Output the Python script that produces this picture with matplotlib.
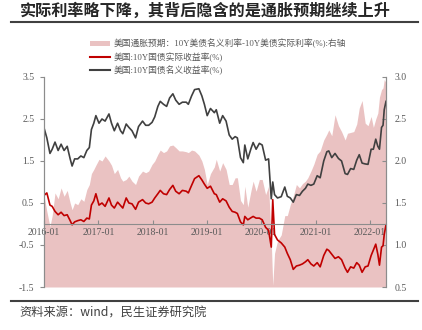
import numpy as np
import pandas as pd
import matplotlib
matplotlib.use('Agg')
import matplotlib.pyplot as plt
import matplotlib.dates as mdates
from matplotlib.lines import Line2D
from matplotlib.patches import Patch

plt.rcParams['font.family'] = ['Liberation Serif', 'Noto Sans CJK SC']
plt.rcParams['axes.unicode_minus'] = False

# sample dates shared by the three series
dates = [
    '2016-01-04', '2016-01-20', '2016-02-10', '2016-02-25', '2016-03-15', '2016-04-05',
    '2016-04-25', '2016-05-15', '2016-06-05', '2016-06-25', '2016-07-08', '2016-07-25',
    '2016-08-15', '2016-09-05', '2016-09-25', '2016-10-15', '2016-11-01', '2016-11-15',
    '2016-12-01', '2016-12-15', '2017-01-05', '2017-01-25', '2017-02-15', '2017-03-13',
    '2017-03-30', '2017-04-18', '2017-05-10', '2017-05-30', '2017-06-14', '2017-07-07',
    '2017-07-25', '2017-08-15', '2017-09-08', '2017-09-28', '2017-10-25', '2017-11-15',
    '2017-12-05', '2017-12-28', '2018-01-15', '2018-02-05', '2018-02-21', '2018-03-15',
    '2018-04-05', '2018-04-25', '2018-05-17', '2018-06-05', '2018-06-28', '2018-07-20',
    '2018-08-15', '2018-08-29', '2018-09-20', '2018-10-10', '2018-11-08', '2018-11-28',
    '2018-12-15', '2019-01-03', '2019-01-25', '2019-02-20', '2019-03-05', '2019-03-28',
    '2019-04-17', '2019-05-10', '2019-05-31', '2019-06-20', '2019-07-10', '2019-07-25',
    '2019-08-15', '2019-09-03', '2019-09-13', '2019-10-03', '2019-10-25', '2019-11-08',
    '2019-11-28', '2019-12-20', '2020-01-08', '2020-01-31', '2020-02-20', '2020-03-09',
    '2020-03-19', '2020-03-31', '2020-04-20', '2020-05-15', '2020-06-08', '2020-06-25',
    '2020-07-15', '2020-08-04', '2020-08-25', '2020-09-15', '2020-10-05', '2020-10-25',
    '2020-11-10', '2020-12-01', '2020-12-20', '2021-01-12', '2021-02-01', '2021-02-25',
    '2021-03-18', '2021-03-31', '2021-04-20', '2021-05-12', '2021-06-04', '2021-06-25',
    '2021-07-19', '2021-08-04', '2021-08-25', '2021-09-15', '2021-10-05', '2021-10-22',
    '2021-11-10', '2021-12-01', '2021-12-20', '2022-01-10', '2022-01-25', '2022-02-10',
    '2022-02-24', '2022-03-07', '2022-03-21', '2022-03-31', '2022-04-08', '2022-04-20',
]

# 10Y nominal yield (%), left axis
nominal = [
    2.25, 2.05, 1.68, 1.78, 1.95, 1.75, 1.90, 1.75, 1.85, 1.55, 1.38, 1.55,
    1.55, 1.62, 1.58, 1.75, 1.82, 2.25, 2.40, 2.58, 2.40, 2.50, 2.45, 2.62,
    2.40, 2.22, 2.40, 2.22, 2.15, 2.38, 2.30, 2.22, 2.05, 2.32, 2.45, 2.35,
    2.35, 2.42, 2.55, 2.80, 2.92, 2.85, 2.80, 3.00, 3.10, 2.95, 2.85, 2.90,
    2.90, 2.85, 3.05, 3.20, 3.22, 3.05, 2.85, 2.58, 2.75, 2.65, 2.72, 2.40,
    2.58, 2.45, 2.12, 2.02, 2.08, 2.05, 1.58, 1.46, 1.88, 1.55, 1.80, 1.94,
    1.78, 1.92, 1.88, 1.52, 1.55, 0.60, 1.00, 0.70, 0.62, 0.65, 0.88, 0.66,
    0.62, 0.52, 0.70, 0.68, 0.78, 0.85, 0.95, 0.92, 0.95, 1.15, 1.10, 1.50,
    1.72, 1.74, 1.58, 1.68, 1.56, 1.50, 1.20, 1.18, 1.32, 1.30, 1.52, 1.65,
    1.45, 1.43, 1.42, 1.78, 1.78, 2.02, 1.85, 1.78, 2.30, 2.35, 2.72, 2.92,
]

# 10Y real (TIPS) yield (%), left axis
real = [
    0.69, 0.74, 0.45, 0.42, 0.30, 0.22, 0.28, 0.20, 0.22, 0.08, -0.02, 0.05,
    0.08, 0.10, 0.06, 0.14, 0.12, 0.45, 0.55, 0.72, 0.45, 0.50, 0.42, 0.62,
    0.45, 0.38, 0.52, 0.44, 0.38, 0.62, 0.50, 0.48, 0.35, 0.52, 0.58, 0.50,
    0.48, 0.52, 0.62, 0.72, 0.80, 0.72, 0.70, 0.82, 0.92, 0.78, 0.72, 0.80,
    0.78, 0.74, 0.92, 1.08, 1.15, 1.05, 0.95, 0.85, 0.90, 0.72, 0.70, 0.52,
    0.60, 0.55, 0.40, 0.30, 0.28, 0.25, 0.05, -0.02, 0.18, 0.10, 0.15, 0.18,
    0.14, 0.14, 0.10, -0.08, -0.15, -0.55, 0.58, -0.25, -0.38, -0.45, -0.55, -0.70,
    -0.85, -1.08, -1.00, -0.98, -0.95, -0.90, -0.85, -0.95, -1.00, -0.92, -1.02, -0.75,
    -0.60, -0.63, -0.72, -0.82, -0.78, -0.85, -1.05, -1.15, -1.02, -1.05, -0.92, -0.98,
    -1.15, -1.02, -1.00, -0.75, -0.62, -0.48, -0.72, -0.98, -0.55, -0.52, -0.25, -0.02,
]

# breakeven inflation (%), right axis
breakeven = [
    1.56, 1.40, 1.22, 1.35, 1.62, 1.55, 1.68, 1.58, 1.65, 1.50, 1.42, 1.50,
    1.48, 1.55, 1.52, 1.66, 1.72, 1.85, 1.90, 1.95, 2.02, 2.00, 2.06, 2.00,
    1.95, 1.85, 1.90, 1.80, 1.76, 1.78, 1.82, 1.76, 1.72, 1.82, 1.88, 1.86,
    1.88, 1.96, 2.00, 2.08, 2.13, 2.10, 2.12, 2.18, 2.19, 2.16, 2.12, 2.12,
    2.11, 2.10, 2.13, 2.12, 2.07, 2.00, 1.90, 1.72, 1.85, 1.93, 2.02, 1.88,
    1.98, 1.90, 1.72, 1.72, 1.80, 1.80, 1.53, 1.48, 1.70, 1.45, 1.65, 1.76,
    1.64, 1.78, 1.78, 1.60, 1.70, 1.05, 0.52, 0.90, 1.05, 1.12, 1.35, 1.35,
    1.48, 1.58, 1.72, 1.68, 1.73, 1.76, 1.80, 1.88, 1.96, 2.08, 2.12, 2.25,
    2.32, 2.37, 2.30, 2.55, 2.42, 2.35, 2.25, 2.33, 2.34, 2.35, 2.44, 2.63,
    2.72, 2.45, 2.42, 2.53, 2.40, 2.50, 2.57, 2.76, 2.85, 2.87, 2.97, 2.93,
]

left_ticks = [3.5, 2.5, 1.5, 0.5, -0.5, -1.5]
right_ticks = [0.5, 1.0, 1.5, 2.0, 2.5, 3.0]
year_ticks = ['2016-01', '2017-01', '2018-01', '2019-01', '2020-01', '2021-01', '2022-01']

labels = ['美国通胀预期：10Y美债名义利率-10Y美债实际利率(%):右轴',
          '美国:10Y国债实际收益率(%)',
          '美国:10Y国债名义收益率(%)']

d = pd.to_datetime(dates)
fill_c = '#eac2c2'
red_c = '#c00000'
gray_c = '#404040'
axis_c = '#8c8c8c'
text_c = '#595959'

fig = plt.figure(figsize=(4.22, 3.30), dpi=100)
ax = fig.add_axes([0.1043, 0.1303, 0.8104, 0.6364])
ax2 = ax.twinx()
ax.set_zorder(ax2.get_zorder() + 1)
ax.patch.set_visible(False)

ax2.fill_between(d, breakeven, 0.5, color=fill_c, lw=0)
ax2.set_ylim(0.5, 3.0)
ax2.set_yticks(right_ticks)
ax2.set_yticklabels(['%.1f' % t for t in right_ticks])

ax.plot(d, real, color=red_c, lw=1.2)
ax.plot(d, nominal, color=gray_c, lw=1.2)
ax.set_ylim(-1.5, 3.5)
ax.set_yticks(left_ticks)
ax.set_yticklabels(['%.1f' % t for t in left_ticks])
ax.set_xlim(pd.Timestamp('2016-01-01'), pd.Timestamp('2022-04-20'))
ax.set_xticks(pd.to_datetime(year_ticks))
ax.xaxis.set_major_formatter(mdates.DateFormatter('%Y-%m'))

for a in (ax, ax2):
    a.spines['top'].set_visible(False)
    a.spines['left'].set_color(axis_c)
    a.spines['right'].set_color(axis_c)
    a.spines['left'].set_linewidth(0.8)
    a.spines['right'].set_linewidth(0.8)
ax2.spines['bottom'].set_visible(False)
ax.spines['bottom'].set_position(('data', 0))
ax.spines['bottom'].set_color(axis_c)
ax.spines['bottom'].set_linewidth(0.8)

ax.tick_params(axis='x', direction='in', length=3, color=axis_c,
               labelsize=7, labelcolor=text_c, pad=3)
ax.tick_params(axis='y', direction='out', length=3, color=axis_c,
               labelsize=7, labelcolor=text_c, pad=4)
ax2.tick_params(axis='y', direction='in', length=3, color=axis_c,
                labelsize=7, labelcolor=text_c, pad=6)

handles = [Patch(facecolor=fill_c, edgecolor='none'),
           Line2D([], [], color=red_c, lw=1.5),
           Line2D([], [], color=gray_c, lw=1.5)]
leg = fig.legend(handles, labels, loc='upper left', bbox_to_anchor=(0.213, 0.882),
                 frameon=False, fontsize=6.3, handlelength=2.3, handleheight=0.6,
                 handletextpad=0.4, labelspacing=0.42, borderaxespad=0,
                 borderpad=0)
for t in leg.get_texts():
    t.set_color(text_c)

# title and source bands
fig.text(0.047, 0.967, '实际利率略下降，其背后隐含的是通胀预期继续上升',
         family='Noto Sans CJK SC', weight='bold', fontsize=11.6,
         color='#262626', va='center', ha='left')
fig.add_artist(Line2D([0.027, 0.99], [0.932, 0.932], color='#404040', lw=1.5))
fig.add_artist(Line2D([0.027, 0.99], [0.087, 0.087], color='#404040', lw=1.5))
fig.text(0.047, 0.051, '资料来源：wind，民生证券研究院',
         family=['Noto Sans CJK SC'], fontsize=8.8, color='#404040',
         va='center', ha='left')

fig.savefig('out.png', dpi=100)
